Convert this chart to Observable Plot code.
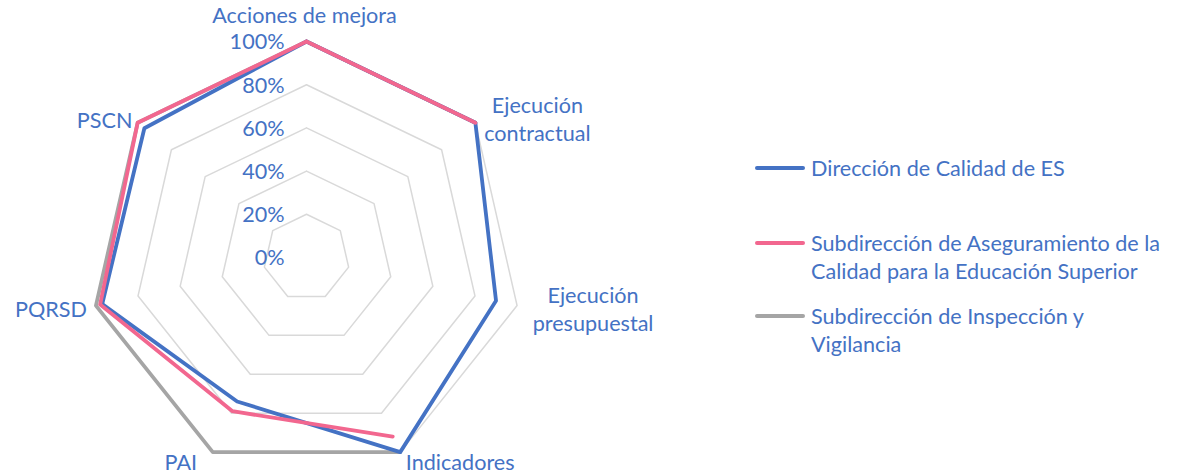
<!DOCTYPE html>
<html>
<head>
<meta charset="utf-8">
<script src="https://cdn.jsdelivr.net/npm/d3@7"></script>
<script src="https://cdn.jsdelivr.net/npm/@observablehq/plot@0.6"></script>
<style>
  body { margin: 0; background: #fff; font-family: Lato, "Noto Sans", sans-serif; }
  #wrap { position: relative; width: 1194px; height: 475px; display: flex; }
  #chart { width: 740px; height: 475px; }
  #legend { position: relative; width: 454px; height: 475px; color: #4472C4; font-size: 21.6px; }
  .entry { position: absolute; left: 71px; line-height: 28px; white-space: nowrap; }
  .swatch { position: absolute; left: 15px; width: 50px; height: 4px; border-radius: 2px; }
</style>
</head>
<body>
<div id="wrap"><div id="chart"></div><div id="legend"></div></div>
<script>
// ---- data ----
const categories = ["Acciones de mejora", "Ejecución contractual", "Ejecución presupuestal", "Indicadores", "PAI", "PQRSD", "PSCN"];
const categoryLabels = ["Acciones de mejora", "Ejecución\ncontractual", "Ejecución\npresupuestal", "Indicadores", "PAI", "PQRSD", "PSCN"];
const seriesNames = ["Dirección de Calidad de ES", "Subdirección de Aseguramiento de la Calidad para la Educación Superior", "Subdirección de Inspección y Vigilancia"];
const legendLabels = ["Dirección de Calidad de ES", "Subdirección de Aseguramiento de la\nCalidad para la Educación Superior", "Subdirección de Inspección y\nVigilancia"];
const direccion = [100, 100, 90, 100, 74, 97, 96];
const aseguramiento = [100, 100, null, 92, 79, 98, 100];
const inspeccion = [100, 100, null, 100, 100, 100, 100];
const ticks = [0, 20, 40, 60, 80, 100];
const tickLabels = ["0%", "20%", "40%", "60%", "80%", "100%"];

// ---- layout / style ----
const colors = ["#4472C4", "#F2678F", "#A5A5A5"];
const FONT = 21.6;
const W = 740, H = 475, CX = 306, CY = 257, R = 216;
const n = categories.length;
const ang = i => (2 * Math.PI * i) / n;
const px = (v, i) => (v / 100) * Math.sin(ang(i));
const py = (v, i) => (v / 100) * Math.cos(ang(i));
// label offsets (px) from the 100% vertex
const labelOffset = [[-2, -27], [62, -5], [76, 2], [60, 9], [-32, 9], [-45, 2], [-33, -4]];

const seriesValues = [direccion, aseguramiento, inspeccion];
const lineRows = [];
// draw order: gray, blue, pink
[2, 0, 1].forEach(s => {
  const vals = seriesValues[s];
  for (let k = 0; k <= n; k++) {
    const i = k % n;
    const v = vals[i];
    lineRows.push({series: seriesNames[s], order: s, x: v == null ? NaN : px(v, i), y: v == null ? NaN : py(v, i)});
  }
});

const ringRows = [];
ticks.filter(t => t > 0).forEach(t => {
  for (let k = 0; k <= n; k++) ringRows.push({ring: t, x: px(t, k % n), y: py(t, k % n)});
});

const labelRows = categories.map((c, i) => ({
  label: categoryLabels[i],
  x: px(100, i) + labelOffset[i][0] / R,
  y: py(100, i) - labelOffset[i][1] / R
}));

const tickRows = ticks.map((t, i) => ({label: tickLabels[i], x: 0, y: t / 100}));

const chart = Plot.plot({
  width: W, height: H,
  marginTop: 0, marginBottom: 0, marginLeft: 0, marginRight: 0,
  x: {domain: [-CX / R, (W - CX) / R], axis: null},
  y: {domain: [-(H - CY) / R, CY / R], axis: null},
  style: {fontFamily: "Lato, 'Noto Sans', sans-serif", background: "#fff"},
  marks: [
    Plot.line(ringRows, {x: "x", y: "y", z: "ring", stroke: "#D9D9D9", strokeWidth: 1.5}),
    Plot.line(lineRows, {x: "x", y: "y", z: "series", stroke: d => colors[d.order], strokeWidth: 3.8, strokeLinejoin: "round", strokeLinecap: "round"}),
    Plot.text(tickRows, {x: "x", y: "y", text: "label", textAnchor: "end", dx: -22, dy: 1, fill: "#4472C4", fontSize: FONT}),
    Plot.text(labelRows, {x: "x", y: "y", text: "label", textAnchor: "middle", lineAnchor: "middle", lineHeight: 28 / FONT, fill: "#4472C4", fontSize: FONT})
  ]
});
document.getElementById("chart").appendChild(chart);

// legend (HTML)
const legendTops = [168, 243, 316]; // first-line centres, page px
const legend = document.getElementById("legend");
[0, 1, 2].forEach(s => {
  const sw = document.createElement("div");
  sw.className = "swatch";
  sw.style.background = colors[s];
  sw.style.top = (legendTops[s] - 2) + "px";
  legend.appendChild(sw);
  const e = document.createElement("div");
  e.className = "entry";
  e.style.top = (legendTops[s] - 14) + "px";
  e.innerHTML = legendLabels[s].split("\n").join("<br>");
  legend.appendChild(e);
});
</script>
</body>
</html>
